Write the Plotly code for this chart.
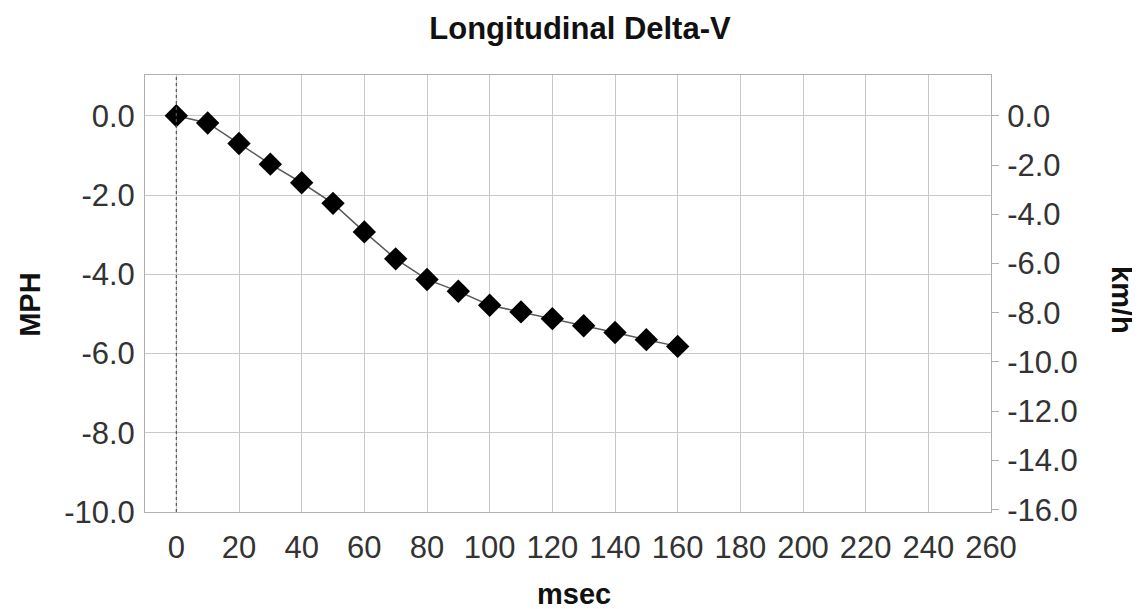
import plotly.graph_objects as go

msec = [0, 10, 20, 30, 40, 50, 60, 70, 80, 90, 100, 110, 120, 130, 140, 150, 160]
mph = [0.0, -0.18, -0.70, -1.22, -1.69, -2.21, -2.93, -3.61, -4.13, -4.43, -4.78,
       -4.95, -5.12, -5.30, -5.47, -5.65, -5.82]

x_ticks = list(range(0, 261, 20))
mph_ticks = [0, -2, -4, -6, -8, -10]
kmh_ticks = [0, -2, -4, -6, -8, -10, -12, -14, -16]
MPH_RANGE = [-10, 1.03]
KMH_PER_MPH = 1.609344

FONT = "Liberation Sans, Arial, sans-serif"
TICK_FONT = dict(family=FONT, size=31, color="#333333")
TITLE_FONT = dict(family=FONT, size=29, color="#111111")

W, H = 1132, 601
L, T, PW, PH = 137, 67, 846, 437

fig = go.Figure()
fig.add_trace(go.Scatter(
    x=msec, y=mph, mode="lines+markers",
    line=dict(color="#5a5a5a", width=1.5),
    marker=dict(symbol="diamond", size=18, color="black", line=dict(width=0)),
    showlegend=False,
))
# invisible trace to activate the km/h axis
fig.add_trace(go.Scatter(x=[None], y=[None], yaxis="y2", showlegend=False))

fig.add_shape(type="line", xref="x", yref="paper", x0=0, x1=0, y0=0, y1=1,
              line=dict(color="#555555", width=1.2, dash="dot"), layer="above")

fig.update_layout(
    width=W, height=H,
    margin=dict(l=L, r=W - L - PW, t=T, b=H - T - PH, autoexpand=False),
    paper_bgcolor="white", plot_bgcolor="white",
    font=dict(family=FONT, color="#222222"),
    title=dict(text="<b>Longitudinal Delta-V</b>", x=(572 - L) / PW, xanchor="center",
               xref="paper", y=1 - 20 / H, yanchor="middle",
               font=dict(family=FONT, size=31, color="#111111")),
    xaxis=dict(range=[-10, 260], tickvals=x_ticks, ticktext=[str(v) for v in x_ticks],
               showgrid=True, gridcolor="#c8c8c8", gridwidth=1,
               zeroline=False, showline=True, linecolor="#b0b0b0", mirror=True,
               ticks="", tickfont=TICK_FONT, ticklabelstandoff=8),
    yaxis=dict(range=MPH_RANGE, tickvals=mph_ticks,
               ticktext=[f"{v:.1f}" for v in mph_ticks],
               showgrid=True, gridcolor="#c8c8c8", gridwidth=1,
               zeroline=False, showline=True, linecolor="#b0b0b0", mirror=True,
               ticks="", tickfont=TICK_FONT, ticklabelstandoff=3),
    yaxis2=dict(range=[MPH_RANGE[0] * KMH_PER_MPH, MPH_RANGE[1] * KMH_PER_MPH],
                overlaying="y", side="right", tickvals=kmh_ticks,
                ticktext=[f"{v:.1f}" for v in kmh_ticks],
                showgrid=False, zeroline=False, showline=False,
                ticks="outside", ticklen=7, tickcolor="#b0b0b0",
                tickfont=TICK_FONT, ticklabelstandoff=2),
    annotations=[
        dict(text="<b>MPH</b>", xref="paper", yref="paper", x=-115 / PW, y=0.474,
             xanchor="center", yanchor="middle", textangle=-90, showarrow=False,
             font=TITLE_FONT),
        dict(text="<b>km/h</b>", xref="paper", yref="paper", x=1 + 131 / PW, y=0.485,
             xanchor="center", yanchor="middle", textangle=90, showarrow=False,
             font=TITLE_FONT),
        dict(text="<b>msec</b>", xref="paper", yref="paper", x=(566 - L) / PW, y=-82 / PH,
             xanchor="center", yanchor="middle", showarrow=False,
             font=TITLE_FONT),
    ],
)

fig.write_html("out.html")
